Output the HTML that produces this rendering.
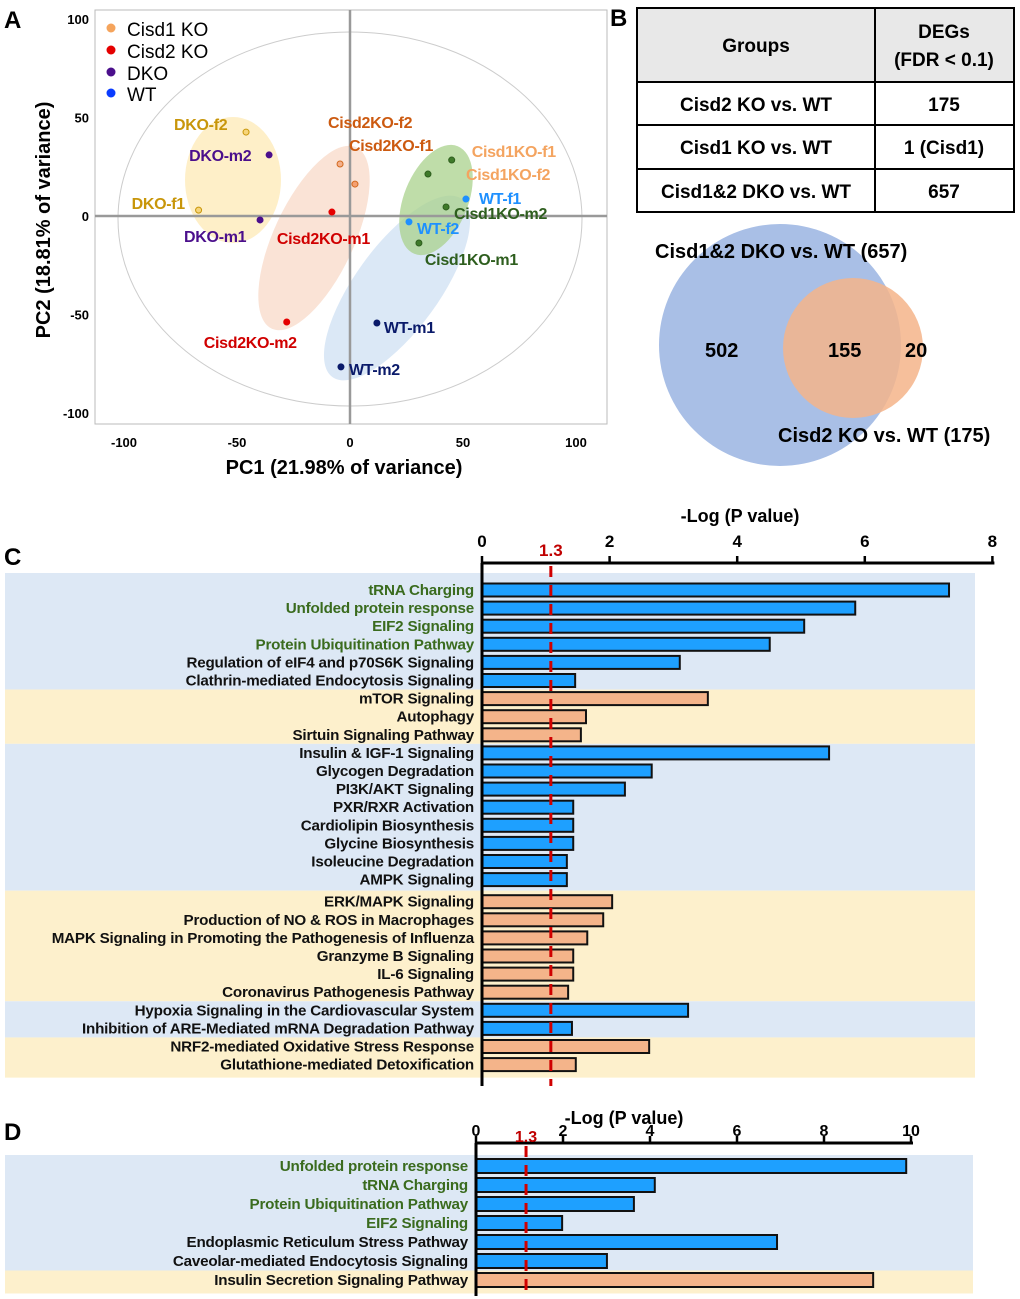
<!DOCTYPE html>
<html><head><meta charset="utf-8"><style>
html,body{margin:0;padding:0;background:#fff;}
svg{display:block;font-family:"Liberation Sans",sans-serif;}
</style></head><body>
<svg id="fig" width="1020" height="1299" viewBox="0 0 1020 1299" xmlns="http://www.w3.org/2000/svg">
<g>
  <text x="4" y="28" font-size="24" font-weight="bold">A</text>
  <rect x="95" y="10" width="512" height="414" fill="none" stroke="#bbb" stroke-width="1"/>
  <ellipse cx="350" cy="219" rx="232" ry="187" fill="none" stroke="#ccc" stroke-width="1"/>
  <g id="pcaEll"></g>
  <line x1="95" y1="216" x2="607" y2="216" stroke="#999" stroke-width="2.5"/>
  <line x1="350" y1="10" x2="350" y2="424" stroke="#999" stroke-width="2.5"/>
  <g id="pcaAxes"></g>
  <g id="pcaPts"></g>
  <g font-size="19">
    <circle cx="111" cy="28" r="4.5" fill="#f5a45c"/><text x="127" y="36">Cisd1 KO</text>
    <circle cx="111" cy="50" r="4.5" fill="#e50000"/><text x="127" y="58">Cisd2 KO</text>
    <circle cx="111" cy="72" r="4.5" fill="#4b0f8c"/><text x="127" y="80">DKO</text>
    <circle cx="111" cy="93" r="4.5" fill="#0a3cff"/><text x="127" y="101">WT</text>
  </g>
  <text x="344" y="474" font-size="20" font-weight="bold" text-anchor="middle">PC1 (21.98% of variance)</text>
  <text transform="translate(50,220) rotate(-90)" font-size="20" font-weight="bold" text-anchor="middle">PC2 (18.81% of variance)</text>
</g>
<g font-weight="bold">
  <text x="610" y="26" font-size="24">B</text>
  <rect x="637" y="8" width="377" height="74" fill="#e8e8e8"/>
  <rect x="637" y="8" width="377" height="204" fill="none" stroke="#000" stroke-width="2"/>
  <line x1="637" y1="82" x2="1014" y2="82" stroke="#000" stroke-width="2"/>
  <line x1="637" y1="125" x2="1014" y2="125" stroke="#000" stroke-width="2"/>
  <line x1="637" y1="169" x2="1014" y2="169" stroke="#000" stroke-width="2"/>
  <line x1="875" y1="8" x2="875" y2="212" stroke="#000" stroke-width="2"/>
  <g font-size="19" text-anchor="middle">
    <text x="756" y="52">Groups</text>
    <text x="944" y="38">DEGs</text>
    <text x="944" y="66">(FDR &lt; 0.1)</text>
    <text x="756" y="111">Cisd2 KO vs. WT</text>
    <text x="944" y="111">175</text>
    <text x="756" y="154">Cisd1 KO vs. WT</text>
    <text x="944" y="154">1 (Cisd1)</text>
    <text x="756" y="198">Cisd1&amp;2 DKO vs. WT</text>
    <text x="944" y="198">657</text>
  </g>
  <circle cx="780" cy="345" r="121" fill="#a9bfe6"/>
  <circle cx="853" cy="348" r="70" fill="#f4b48a" fill-opacity="0.85"/>
  <g font-size="20">
    <text x="655" y="258">Cisd1&amp;2 DKO vs. WT (657)</text>
    <text x="705" y="357">502</text>
    <text x="828" y="357">155</text>
    <text x="905" y="357">20</text>
    <text x="778" y="442">Cisd2 KO vs. WT (175)</text>
  </g>
</g>
<g id="panelC">
  <text x="4" y="565" font-size="24" font-weight="bold">C</text>
</g>
<g id="panelD">
  <text x="4" y="1140" font-size="24" font-weight="bold">D</text>
</g>
</svg>
<script>
const NS='http://www.w3.org/2000/svg';
function mk(parent,tag,attrs,txt){const e=document.createElementNS(NS,tag);for(const k in attrs)e.setAttribute(k,attrs[k]);if(txt!==undefined)e.textContent=txt;parent.appendChild(e);return e;}

// ---------- Panel A data ----------
const pcaSamples=['DKO-f2','DKO-m2','DKO-f1','DKO-m1','Cisd2KO-f2','Cisd2KO-f1','Cisd2KO-m1','Cisd2KO-m2','Cisd1KO-f1','Cisd1KO-f2','Cisd1KO-m2','Cisd1KO-m1','WT-f1','WT-f2','WT-m1','WT-m2'];
const pcaPC1=[-46,-35.8,-67,-39.8,-4.4,2.2,-8,-28,45,34.5,42.5,30.5,51.3,26.1,11.9,-4];
const pcaPC2=[42.6,31,3,-2,26.4,16.2,2,-53.8,28.4,21.3,4.6,-13.7,8.6,-3,-54.3,-76.6];
const pcaTicks=[-100,-50,0,50,100];
const px=v=>350+v*2.26, py=v=>216-v*1.97;
const ptFill=['#f7d57a','#4b0f8c','#f7d57a','#4b0f8c','#f5b08a','#f5a070','#e50000','#e50000','#3f7a2a','#3f7a2a','#3f7a2a','#3f7a2a','#1e90ff','#1e90ff','#0a1a6a','#0a1a6a'];
const ptStroke=['#c8960a','#4b0f8c','#c8960a','#4b0f8c','#d2691e','#d2691e','#e50000','#e50000','#2e5e1e','#2e5e1e','#2e5e1e','#2e5e1e','#1e90ff','#1e90ff','#0a1a6a','#0a1a6a'];
const lblColor=['#c8960a','#4b0f8c','#c8960a','#4b0f8c','#cc5a10','#cc5a10','#d00000','#d00000','#f4a460','#f4a460','#2e5e1e','#2e5e1e','#1e90ff','#1e90ff','#0a1a6a','#0a1a6a'];
const lblDx=[-72,-80,-67,-76,-12,-6,-55,-83,20,38,8,6,13,8,7,8];
const lblDy=[-2,6,-1,22,-36,-33,32,26,-3,6,12,22,5,12,10,8];

const ell=document.getElementById('pcaEll');
const ellDefs=[[233,180,48,63,0,'#fde9b5','yellow'],[314,238,40,100,25,'#f8d9c8','pink'],[397,288,42,110,36,'#cfe0f3','blue'],[436,200,32,58,22,'#a9d28c','green']];
ellDefs.forEach(d=>{const e=mk(ell,'ellipse',{cx:d[0],cy:d[1],rx:d[2],ry:d[3],transform:`rotate(${d[4]} ${d[0]} ${d[1]})`,fill:d[5],'fill-opacity':0.75});

});

const ax=document.getElementById('pcaAxes');
pcaTicks.forEach(t=>{
  const a=mk(ax,'text',{x:px(t),y:447,'font-size':13,'font-weight':'bold','text-anchor':'middle'},String(t));
  
  
  const b=mk(ax,'text',{x:89,y:py(t)+5,'font-size':13,'font-weight':'bold','text-anchor':'end'},String(t));
  
  
});
const pts=document.getElementById('pcaPts');
pcaSamples.forEach((s,i)=>{
  const x=px(pcaPC1[i]),y=py(pcaPC2[i]);
  const c=mk(pts,'circle',{cx:x,cy:y,r:3,fill:ptFill[i],stroke:ptStroke[i],'stroke-width':1});
  
  
  const t=mk(pts,'text',{x:x+lblDx[i],y:y+lblDy[i],'font-size':16,'font-weight':'bold',fill:lblColor[i],'letter-spacing':-0.3},s);
  
  
});

// ---------- Panel C data ----------
const cNames=['tRNA Charging','Unfolded protein response','EIF2 Signaling','Protein Ubiquitination Pathway','Regulation of eIF4 and p70S6K Signaling','Clathrin-mediated Endocytosis Signaling','mTOR Signaling','Autophagy','Sirtuin Signaling Pathway','Insulin & IGF-1 Signaling','Glycogen Degradation','PI3K/AKT Signaling','PXR/RXR Activation','Cardiolipin Biosynthesis','Glycine Biosynthesis','Isoleucine Degradation','AMPK Signaling','ERK/MAPK Signaling','Production of NO & ROS in Macrophages','MAPK Signaling in Promoting the Pathogenesis of Influenza','Granzyme B Signaling','IL-6 Signaling','Coronavirus Pathogenesis Pathway','Hypoxia Signaling in the Cardiovascular System','Inhibition of ARE-Mediated mRNA Degradation Pathway','NRF2-mediated Oxidative Stress Response','Glutathione-mediated Detoxification'];
const cValues=[7.32,5.85,5.05,4.51,3.10,1.46,3.54,1.63,1.55,5.44,2.66,2.24,1.43,1.43,1.43,1.33,1.33,2.04,1.90,1.65,1.43,1.43,1.35,3.23,1.41,2.62,1.47];
const cGroup=[0,0,0,0,0,0,1,1,1,0,0,0,0,0,0,0,0,1,1,1,1,1,1,0,0,1,1];
const cHighlight=[1,1,1,1,0,0,0,0,0,0,0,0,0,0,0,0,0,0,0,0,0,0,0,0,0,0,0];
const cTicks=[0,2,4,6,8];
const cThreshold=1.3;

// ---------- Panel D data ----------
const dNames=['Unfolded protein response','tRNA Charging','Protein Ubiquitination Pathway','EIF2 Signaling','Endoplasmic Reticulum Stress Pathway','Caveolar-mediated Endocytosis Signaling','Insulin Secretion Signaling Pathway'];
const dValues=[9.89,4.11,3.63,1.98,6.92,3.01,9.13];
const dGroup=[0,0,0,0,0,0,1];
const dHighlight=[1,1,1,1,0,0,0];
const dTicks=[0,2,4,6,8,10];
const dThreshold=1.3;

function barChart(g,cfg,names,vals,grp,hl,ticks,thr){
  const X=v=>cfg.x0+v*cfg.k;
  const rowY=i=>cfg.y0+i*cfg.step+(cfg.gapAfter&&i>cfg.gapAfter?cfg.gap:0);
  let start=0;
  for(let i=1;i<=names.length;i++){
    if(i===names.length||grp[i]!==grp[start]){
      const top=(start===0?cfg.bandTop:rowY(start)-cfg.step/2-(cfg.gapAfter&&start===cfg.gapAfter+1?cfg.gap/2:0));
      const bot=(i===names.length?rowY(i-1)+cfg.step/2+4:rowY(i)-cfg.step/2-(cfg.gapAfter&&i===cfg.gapAfter+1?cfg.gap/2:0));
      const r=mk(g,'rect',{x:5,y:top,width:cfg.bandW,height:bot-top,fill:grp[start]?'#fdf0cc':'#dde8f5'});
      
      
      start=i;
    }
  }
  const bh=cfg.bh;
  names.forEach((n,i)=>{
    const y=rowY(i);
    const b=mk(g,'rect',{x:X(0),y:y-bh/2,width:X(vals[i])-X(0),height:bh,fill:grp[i]?'#f4b48a':'#1ea0ff',stroke:'#111','stroke-width':2});
    
    
    const t=mk(g,'text',{x:cfg.x0-8,y:y+5,'text-anchor':'end','font-size':cfg.fs,'font-weight':'bold','letter-spacing':cfg.ls,fill:hl[i]?'#3a6b1e':'#111'},n);
    
    
  });
  const al=mk(g,'line',{x1:X(0)-1,y1:cfg.axisY,x2:X(ticks[ticks.length-1])+2,y2:cfg.axisY,stroke:'#000','stroke-width':3});
  
  
  const vl=mk(g,'line',{x1:X(0),y1:cfg.axisY,x2:X(0),y2:cfg.axisBottom,stroke:'#000','stroke-width':3});
  
  
  ticks.forEach(t=>{
    mk(g,'line',{x1:X(t),y1:cfg.axisY,x2:X(t),y2:cfg.axisY-7,stroke:'#000','stroke-width':2.5});
    const tl=mk(g,'text',{x:X(t),y:cfg.tickY,'text-anchor':'middle','font-size':cfg.tfs,'font-weight':'bold'},String(t));
    
    
  });
  const tx=X(thr*cfg.thrAdj);
  const dl=mk(g,'line',{x1:tx,y1:cfg.axisY+3,x2:tx,y2:cfg.axisBottom,stroke:'#d00000','stroke-width':3,'stroke-dasharray':'11 8'});
  
  
  const th=mk(g,'text',{x:tx,y:cfg.thrY,'text-anchor':'middle','font-size':cfg.tfs,'font-weight':'bold',fill:'#c00000'},String(thr));
  
  
  const tt=mk(g,'text',{x:cfg.titleX,y:cfg.titleY,'text-anchor':'middle','font-size':18,'font-weight':'bold'},'-Log (P value)');
  
  
}
barChart(document.getElementById('panelC'),{x0:482,k:63.8,y0:590,step:18.1,gapAfter:16,gap:4,bh:13,bandTop:573,bandW:970,fs:15.2,ls:-0.2,axisY:563,axisBottom:1086,tickY:547,tfs:17,thrY:556,thrAdj:0.83,titleX:740,titleY:522},cNames,cValues,cGroup,cHighlight,cTicks,cThreshold);
barChart(document.getElementById('panelD'),{x0:476,k:43.5,y0:1166,step:19,gapAfter:0,gap:0,bh:14,bandTop:1155,bandW:968,fs:15.2,ls:-0.2,axisY:1143,axisBottom:1296,tickY:1136,tfs:16,thrY:1142,thrAdj:0.885,titleX:624,titleY:1124},dNames,dValues,dGroup,dHighlight,dTicks,dThreshold);
</script>
</body></html>
